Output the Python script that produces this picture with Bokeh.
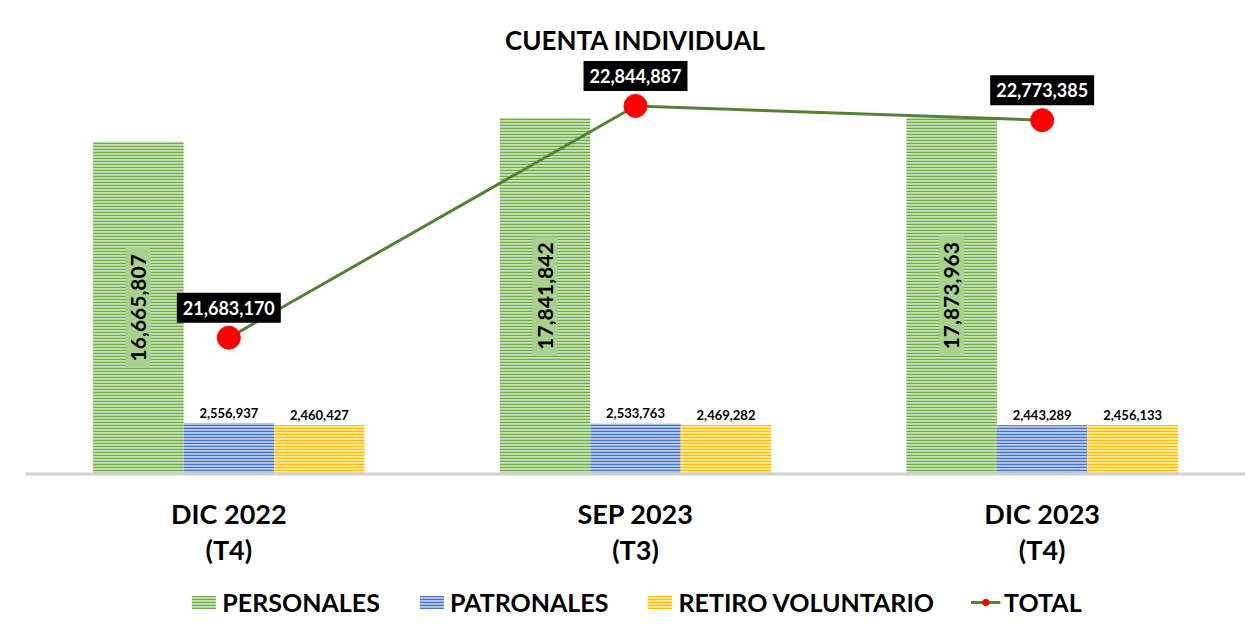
import math
from bokeh.plotting import figure
from bokeh.models import ColumnDataSource, FactorRange, Range1d, Legend, LegendItem, Span
from bokeh.transform import dodge
from bokeh.core.properties import value
from bokeh.embed import file_html
from bokeh.resources import INLINE

categories = ["DIC 2022\n(T4)", "SEP 2023\n(T3)", "DIC 2023\n(T4)"]
personales = [16665807, 17841842, 17873963]
patronales = [2556937, 2533763, 2443289]
retiro = [2460427, 2469282, 2456133]
total = [21683170, 22844887, 22773385]
series_names = ["PERSONALES", "PATRONALES", "RETIRO VOLUNTARIO", "TOTAL"]
title_text = "CUENTA INDIVIDUAL"

# axis extents (value space)
PRIMARY_MAX = 20_000_000
SECONDARY_MIN, SECONDARY_MAX = 21_000_000, 23_000_000

# layout (pixels)
W, H = 1251, 620
FRAME_TOP = 58         # top of the plotting frame
BASE_Y = 473.5         # baseline position from figure top
PLOT_PX = 399          # pixels spanned by the primary/secondary extents
ABOVE_PX = BASE_Y - FRAME_TOP
BELOW_PX = H - BASE_Y


def fmt(v):
    return f"{v:,}"


src = ColumnDataSource(dict(
    cat=categories,
    per=personales, pat=patronales, ret=retiro, tot=total,
    per_mid=[v / 2 for v in personales],
    per_lbl=[fmt(v) for v in personales],
    pat_lbl=[fmt(v) for v in patronales],
    ret_lbl=[fmt(v) for v in retiro],
    tot_lbl=[fmt(v) for v in total],
    zero=[0] * len(categories),
))

FONT = "Lato"
BW = 0.2225

prim_per_px = PRIMARY_MAX / PLOT_PX
sec_per_px = (SECONDARY_MAX - SECONDARY_MIN) / PLOT_PX
prim_range = Range1d(-prim_per_px * BELOW_PX, prim_per_px * ABOVE_PX)
sec_range = Range1d(SECONDARY_MIN - sec_per_px * BELOW_PX, SECONDARY_MIN + sec_per_px * ABOVE_PX)

p = figure(
    x_range=FactorRange(*categories, range_padding=0),
    y_range=prim_range,
    width=W, height=H,
    output_backend="svg", toolbar_location=None,
    x_axis_location=None, y_axis_location=None,
    min_border_left=25, min_border_right=6, min_border_top=FRAME_TOP, min_border_bottom=0,
    title=title_text,
)
p.extra_y_ranges = {"tot": sec_range}

p.title.align = "center"
p.title.text_font = FONT
p.title.text_font_style = "bold"
p.title.text_font_size = "26px"
p.title.text_color = "black"
p.title.standoff = 5

p.outline_line_color = None
p.xgrid.grid_line_color = None
p.ygrid.grid_line_color = None
p.background_fill_color = "white"
p.border_fill_color = "white"

# baseline (category axis line)
p.add_layout(Span(location=0, dimension="width", line_color="#d0d0d0", line_width=3))

bar_styles = [
    ("per", -BW, "#c5e0b4", "#70ad47"),
    ("pat", 0.0, "#b4c7e7", "#4472c4"),
    ("ret", BW, "#ffe699", "#ffc000"),
]
bar_renderers = []
for col, off, fill, hatch in bar_styles:
    r = p.vbar(
        x=dodge("cat", off, range=p.x_range), top=col, width=BW, bottom=0,
        source=src, fill_color=fill, line_color=None,
        hatch_pattern="horizontal_line", hatch_color=hatch, hatch_scale=3, hatch_weight=1.3,
    )
    bar_renderers.append(r)

# category labels under the baseline
p.text(
    x="cat", y="zero", text="cat", source=src,
    text_align="center", text_baseline="top", y_offset=23, text_line_height=1.1,
    text_font=value(FONT), text_font_style="bold", text_font_size="27px", text_color="black",
)

# rotated labels inside green bars
p.text(
    x=dodge("cat", -BW, range=p.x_range), y="per_mid", text="per_lbl", source=src,
    angle=math.pi / 2, text_align="center", text_baseline="middle",
    text_font=value(FONT), text_font_style="bold", text_font_size="21px", text_color="black",
    background_fill_color="#a9d18e", padding=(6, 5),
)

# labels above blue / yellow bars
for col, off in (("pat", 0.0), ("ret", BW)):
    p.text(
        x=dodge("cat", off, range=p.x_range), y=col, text=col + "_lbl", source=src,
        text_align="center", text_baseline="alphabetic", y_offset=-10,
        text_font=value(FONT), text_font_style="bold", text_font_size="13px", text_color="black",
    )

# total line on secondary scale
r_line = p.line(x="cat", y="tot", source=src, y_range_name="tot",
                line_color="#548235", line_width=3)
r_dot = p.scatter(x="cat", y="tot", source=src, y_range_name="tot",
                  size=23, fill_color="#ff0000", line_color="#ff0000")
p.text(
    x="cat", y="tot", text="tot_lbl", source=src, y_range_name="tot",
    y_offset=-30, text_align="center", text_baseline="middle",
    text_font=value(FONT), text_font_style="bold", text_font_size="18px", text_color="white",
    background_fill_color="black", padding=(6, 8),
)

items = [
    LegendItem(label=series_names[0], renderers=[bar_renderers[0]]),
    LegendItem(label=series_names[1], renderers=[bar_renderers[1]]),
    LegendItem(label=series_names[2], renderers=[bar_renderers[2]]),
    LegendItem(label=series_names[3], renderers=[r_line, r_dot]),
]
legend = Legend(
    items=items, orientation="horizontal", location="bottom_center",
    label_text_font=FONT, label_text_font_style="bold", label_text_font_size="25px",
    label_text_color="black",
    glyph_width=30, glyph_height=16, label_standoff=4, spacing=36,
    border_line_color=None, background_fill_alpha=0, padding=0, margin=3,
)
p.add_layout(legend, "center")

open("out.html", "w").write(file_html(p, INLINE))
